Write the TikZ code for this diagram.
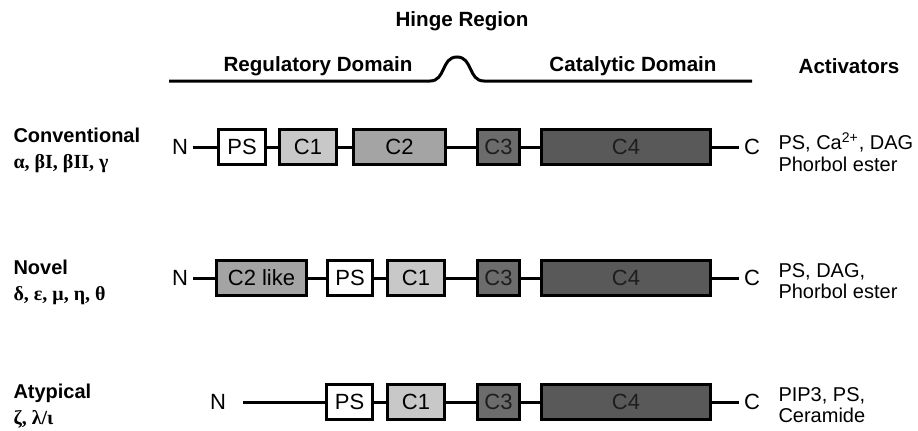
\documentclass[tikz,border=0pt]{standalone}
\usepackage{fontspec}
\setmainfont{Liberation Sans}
\newfontfamily\greekfont{Liberation Serif}
\usetikzlibrary{positioning}
\definecolor{psfill}{HTML}{FFFFFF}
\definecolor{conefill}{HTML}{C8C8C8}
\definecolor{ctwofill}{HTML}{A4A4A4}
\definecolor{cthreefill}{HTML}{6C6C6C}
\definecolor{cfourfill}{HTML}{595959}
\definecolor{darklabel}{HTML}{1E1E1E}

\begin{document}
\begin{tikzpicture}[
    x=0.5pt, y=-0.5pt,
    line width=1.5pt,
    font=\fontsize{10}{12}\selectfont,
    dom/.style={
        draw=black,
        line width=1.5pt,
        minimum height=17.5pt,
        inner sep=0pt,
        font=\fontsize{11}{13}\selectfont
    },
    head/.style={
        font=\fontsize{10.3}{12}\selectfont\bfseries
    },
    classlbl/.style={
        anchor=west,
        align=left,
        inner sep=0pt,
        font=\fontsize{10}{13}\selectfont\bfseries
    },
    actlbl/.style={
        anchor=west,
        align=left,
        inner sep=0pt,
        font=\fontsize{10}{10.8}\selectfont
    },
    term/.style={
        inner sep=2pt,
        font=\fontsize{11}{13}\selectfont
    }
]
\useasboundingbox (0,0) rectangle (918,430);

% Domain bar with hinge
\coordinate (regL) at (169,81);
\coordinate (hingeL) at (430,81);
\coordinate (hingeR) at (484,81);
\coordinate (catR) at (752,81);
\draw (regL) -- (hingeL)
    .. controls (446,81) and (441,57) .. (457,57)
    .. controls (473,57) and (468,81) .. (hingeR) -- (catR);

\node[head] (hinge) at (462,21) {Hinge Region};
\node[head] (regdom) at (318,66) {Regulatory Domain};
\node[head] (catdom) at (633,66) {Catalytic Domain};
\node[head] (activ) at (849,66) {Activators};

% Conventional
\node[classlbl] (conv) at (12,150) {Conventional\\{\greekfont α, βI, βII, γ}};
\node[term] (n1) at (180,147) {N};
\node[dom, fill=psfill, minimum width=23.5pt] (ps1) at (242,147) {PS};
\node[dom, fill=conefill, minimum width=28.5pt] (cone1) at (308,147) {C1};
\node[dom, fill=ctwofill, minimum width=46pt] (ctwo1) at (399.5,147) {C2};
\node[dom, fill=cthreefill, text=darklabel, minimum width=21pt] (cthree1) at (498.5,147) {C3};
\node[dom, fill=cfourfill, text=darklabel, minimum width=84.5pt] (cfour1) at (626,147) {C4};
\node[term] (c1) at (752,147) {C};
\node[actlbl] (act1) at (777,152) {PS, Ca\textsuperscript{2+}, DAG\\Phorbol ester};

% Novel
\node[classlbl] (novel) at (12,282) {Novel\\{\greekfont δ, ε, μ, η, θ}};
\node[term] (n2) at (180,278) {N};
\node[dom, fill=ctwofill, minimum width=45pt] (ctwo2) at (261.5,278) {C2 like};
\node[dom, fill=psfill, minimum width=22.5pt] (ps2) at (350,278) {PS};
\node[dom, fill=conefill, minimum width=28.5pt] (cone2) at (416,278) {C1};
\node[dom, fill=cthreefill, text=darklabel, minimum width=21pt] (cthree2) at (498.5,278) {C3};
\node[dom, fill=cfourfill, text=darklabel, minimum width=84.5pt] (cfour2) at (626,278) {C4};
\node[term] (c2) at (752,278) {C};
\node[actlbl] (act2) at (777,281) {PS, DAG,\\Phorbol ester};

% Atypical
\node[classlbl] (atyp) at (12,406) {Atypical\\{\greekfont ζ, λ/ι}};
\node[term] (n3) at (218,402) {N};
\coordinate (n3start) at (243,402);
\node[dom, fill=psfill, minimum width=23pt] (ps3) at (349.5,402) {PS};
\node[dom, fill=conefill, minimum width=28.5pt] (cone3) at (416,402) {C1};
\node[dom, fill=cthreefill, text=darklabel, minimum width=21pt] (cthree3) at (498.5,402) {C3};
\node[dom, fill=cfourfill, text=darklabel, minimum width=84.5pt] (cfour3) at (626,402) {C4};
\node[term] (c3) at (752,402) {C};
\node[actlbl] (act3) at (777,405) {PIP3, PS,\\Ceramide};

% Linkers
\foreach \a/\b in {n1/ps1,ps1/cone1,cone1/ctwo1,ctwo1/cthree1,cthree1/cfour1,cfour1/c1,
                   n2/ctwo2,ctwo2/ps2,ps2/cone2,cone2/cthree2,cthree2/cfour2,cfour2/c2,
                   ps3/cone3,cone3/cthree3,cthree3/cfour3,cfour3/c3} {
    \draw (\a) -- (\b);
}
\draw (n3start) -- (ps3);

\end{tikzpicture}
\end{document}
